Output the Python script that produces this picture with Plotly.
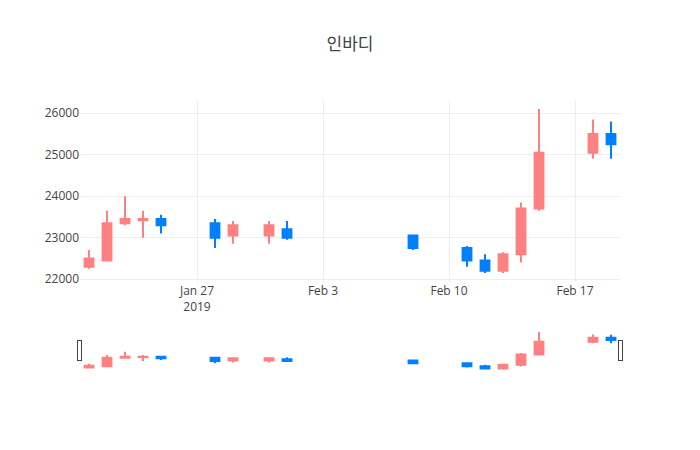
import plotly.graph_objects as go

dates = ["2019-01-21", "2019-01-22", "2019-01-23", "2019-01-24", "2019-01-25",
         "2019-01-28", "2019-01-29", "2019-01-31", "2019-02-01", "2019-02-08",
         "2019-02-11", "2019-02-12", "2019-02-13", "2019-02-14", "2019-02-15",
         "2019-02-18", "2019-02-19"]
open_ = [22300, 22450, 23350, 23420, 23450, 23350, 23050, 23050, 23200, 23050,
         22750, 22450, 22200, 22600, 23700, 25050, 25500]
high = [22700, 23650, 24000, 23650, 23550, 23450, 23400, 23400, 23400, 23050,
        22800, 22600, 22650, 23850, 26100, 25850, 25800]
low = [22250, 22450, 23300, 23000, 23100, 22750, 22850, 22850, 22950, 22700,
       22300, 22150, 22150, 22400, 23650, 24900, 24900]
close = [22500, 23350, 23450, 23450, 23300, 23000, 23300, 23300, 23000, 22750,
         22450, 22200, 22600, 23700, 25050, 25500, 25250]

inc_color = "#FF8080"
dec_color = "#0080FF"

fig = go.Figure(go.Candlestick(
    x=dates, open=open_, high=high, low=low, close=close,
    increasing=dict(line=dict(color=inc_color), fillcolor=inc_color),
    decreasing=dict(line=dict(color=dec_color), fillcolor=dec_color),
))

fig.update_layout(
    title=dict(text="인바디", x=0.5, xanchor="center"),
    width=700, height=450,
    font=dict(family="Open Sans, Noto Sans CJK KR, sans-serif"),
    template="none",
    showlegend=False,
    margin=dict(l=80, r=80, t=100, b=80),
    xaxis=dict(rangeslider=dict(visible=True), gridcolor="#eee"),
    yaxis=dict(tickformat="d", gridcolor="#eee"),
)

fig.write_html("out.html")
